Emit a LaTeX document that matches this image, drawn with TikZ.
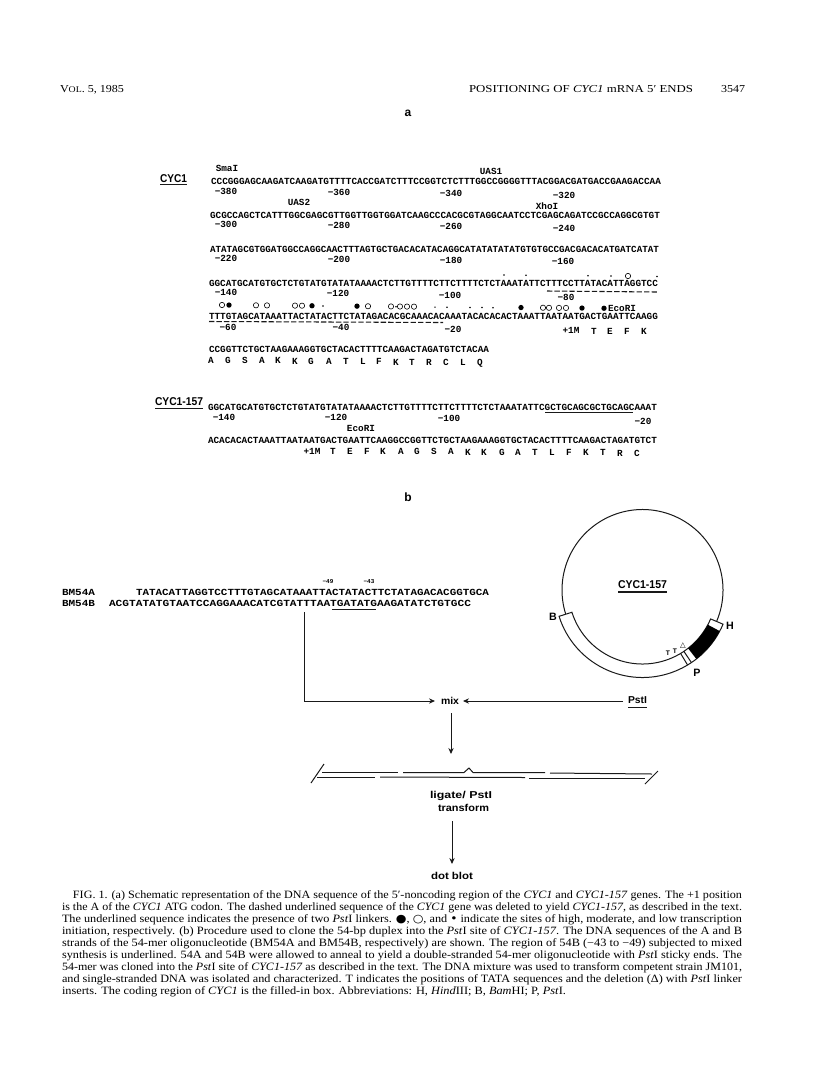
\documentclass[tikz,border=0pt]{standalone}
\usepackage{fontspec}
\usepackage{graphicx}
\setmainfont{Liberation Serif}
\newfontfamily\seqfont{Liberation Mono}[BoldFont={Liberation Mono Bold}]
\newfontfamily\labfont{Liberation Sans}
\newfontfamily\symfont{DejaVu Sans}
\usetikzlibrary{arrows.meta}
\tikzset{
  txt/.style={inner sep=0pt,outer sep=0pt,anchor=base west},
  ctr/.style={inner sep=0pt,outer sep=0pt,anchor=center},
  seqtext/.style={font=\seqfont\bfseries\fontsize{7}{8}\selectfont},
  tick/.style={ctr,seqtext},
  wire/.style={line width=0.75pt,black!90},
  arr/.style={wire,-{Stealth[length=4.5pt,width=4pt]}},
  under/.style={line width=0.8pt,black!90},
  dashunder/.style={line width=0.8pt,black!90,dash pattern=on 4pt off 1.6pt},
  bigdot/.style={circle,fill=black,inner sep=0pt,minimum size=4pt},
  ring/.style={circle,draw=black,line width=0.45pt,inner sep=0pt,minimum size=4pt},
  tiny/.style={circle,fill=black,inner sep=0pt,minimum size=1.3pt},
}
% A line of text stretched to run exactly from x0 to x1 on baseline y.
\newcommand{\fitline}[6]{%
  \pgfmathsetmacro{\fitw}{(#3-#2)*0.75}%
  \node[txt,#5] (#1) at (#2,#4) {\resizebox{\fitw pt}{\height}{#6}};%
}
\newcommand{\ital}[1]{\textit{#1}}
\newcommand{\pst}{\textit{Pst}I}
\begin{document}
\begin{tikzpicture}[x=0.75pt,y=-0.75pt]
\useasboundingbox (0,0) rectangle (816,1076);
\fill[white] (0,0) rectangle (816,1076);

% running head
\fitline{headl}{60}{124}{92}{font=\fontsize{8}{9}\selectfont}{V{\fontsize{6.5}{8}\selectfont OL}. 5, 1985}
\fitline{headc}{469}{693}{92}{font=\fontsize{8}{9}\selectfont}{POSITIONING OF \ital{CYC1} mRNA 5′ ENDS}
\fitline{headr}{721}{745}{92}{font=\fontsize{8}{9}\selectfont}{3547}

% panel letters
\node[ctr,font=\labfont\bfseries\fontsize{9}{10}\selectfont] (pa) at (408,113) {a};
\node[ctr,font=\labfont\bfseries\fontsize{9}{10}\selectfont] (pb) at (408,497) {b};

% CYC1 sequence block
\fitline{cyc}{160}{187}{182}{font=\labfont\bfseries\fontsize{8.5}{10}\selectfont}{CYC1}
\coordinate (cycu) at (160,184.5); \coordinate (cycv) at (187,184.5);
\draw[under,line width=1pt] (cycu)--(cycv);
\fitline{s1}{211}{661}{184}{seqtext}{CCCGGGAGCAAGATCAAGATGTTTTCACCGATCTTTCCGGTCTCTTTGGCCGGGGTTTACGGACGATGACCGAAGACCAA}
\fitline{s2}{210}{660}{218}{seqtext}{GCGCCAGCTCATTTGGCGAGCGTTGGTTGGTGGATCAAGCCCACGCGTAGGCAATCCTCGAGCAGATCCGCCAGGCGTGT}
\fitline{s3}{210}{659}{252}{seqtext}{ATATAGCGTGGATGGCCAGGCAACTTTAGTGCTGACACATACAGGCATATATATATGTGTGCCGACGACACATGATCATAT}
\fitline{s4}{209}{658}{286}{seqtext}{GGCATGCATGTGCTCTGTATGTATATAAAACTCTTGTTTTCTTCTTTTCTCTAAATATTCTTTCCTTATACATTAGGTCC}
\fitline{s5}{209}{658}{319}{seqtext}{TTTGTAGCATAAATTACTATACTTCTATAGACACGCAAACACAAATACACACACTAAATTAATAATGACTGAATTCAAGG}
\fitline{s6}{209}{489}{352.5}{seqtext}{CCGGTTCTGCTAAGAAAGGTGCTACACTTTTCAAGACTAGATGTCTACAA}

\foreach \t/\x/\y/\n in {SmaI/227/168/sm,UAS1/491/171/ua,UAS2/299/202/ub,XhoI/547/206/xh,
  −380/226/191/a1,−360/339/192/a2,−340/451/193/a3,−320/564/195/a4,
  −300/226/224/b1,−280/339/225/b2,−260/451/226/b3,−240/564/228/b4,
  −220/226/258/c1,−200/339/259/c2,−180/451/260/c3,−160/563/261/c4,
  −140/226/292/d1,−120/338/293/d2,−100/450/295/d3,−80/566/297/d4,
  −60/228/327/e1,−40/341/327/e2,−20/453/329/e3,EcoRI/622/308/ec,+1M/571/330/mm}
  \node[tick] (l\n) at (\x,\y) {\t};

% transcription start-site symbols
\foreach \x in {504,526,588,611,657} \node[tiny] (tu\x) at (\x,{275+0.01*(\x-504)}) {};
\node[ring] (ru) at (628,276) {};
\foreach \x in {323,396,435,447,470,482,493} \node[tiny] (tl\x) at (\x,{306+0.01*(\x-323)}) {};
\foreach \x in {222,256,267,295,302,368,391,400,407,414,543,549,559,566}
  \node[ring] (rl\x) at (\x,{305+0.0085*(\x-222)}) {};
\foreach \x in {229,312,357,521,582,604}
  \node[bigdot] (fl\x) at (\x,{305+0.0085*(\x-222)}) {};

% deleted region
\coordinate (da) at (547,291); \coordinate (db) at (657,292);
\draw[dashunder] (da)--(db);
\coordinate (dc) at (209,321.5); \coordinate (dd) at (443,322.5);
\draw[dashunder] (dc)--(dd);

% protein reading frames
\foreach \l/\x in {T/594,E/610,F/627,K/644}
  \node[tick] (pp\x) at (\x,331) {\l};
\foreach \l/\x in {A/211,G/228,S/245,A/262,K/278,K/295,G/311,A/329,T/346,L/363,F/379,K/396,T/412,R/429,C/446,L/463,Q/480}
  \node[tick] (qq\x) at (\x,{360+0.011*(\x-211)}) {\l};

% CYC1-157 sequence block
\fitline{cycb}{155}{203}{405.5}{font=\labfont\bfseries\fontsize{8.5}{10}\selectfont}{CYC1-157}
\coordinate (cbu) at (155,408.5); \coordinate (cbv) at (203,408.5);
\draw[under,line width=1pt] (cbu)--(cbv);
\fitline{s7}{208}{657}{410}{seqtext}{GGCATGCATGTGCTCTGTATGTATATAAAACTCTTGTTTTCTTCTTTTCTCTAAATATTCGCTGCAGCGCTGCAGCAAAT}
\fitline{s8}{208}{657}{443}{seqtext}{ACACACACTAAATTAATAATGACTGAATTCAAGGCCGGTTCTGCTAAGAAAGGTGCTACACTTTTCAAGACTAGATGTCT}
\foreach \t/\x/\y/\n in {−140/224/417/a,−120/336/417.5/b,−100/449/418/c,−20/643/421/d,EcoRI/361/428/e,+1M/312/451/f}
  \node[tick] (m\n) at (\x,\y) {\t};
\coordinate (lnka) at (545,412.5); \coordinate (lnkb) at (633,412.5);
\draw[under] (lnka)--(lnkb);
\foreach \l/\x in {T/333,E/350,F/367,K/383,A/401,G/417,S/434,A/451,K/468,K/484,G/502,A/518,T/535,L/552,F/569,K/586,T/603,R/620,C/637}
  \node[tick] (rr\x) at (\x,{451+0.007*(\x-333)}) {\l};

% oligonucleotide strands
\fitline{bma}{62}{95}{595}{seqtext}{BM54A}
\fitline{bmb}{62}{95}{606}{seqtext}{BM54B}
\fitline{olia}{136}{489}{595}{seqtext}{TATACATTAGGTCCTTTGTAGCATAAATTACTATACTTCTATAGACACGGTGCA}
\fitline{olib}{109}{471}{606}{seqtext}{ACGTATATGTAATCCAGGAAACATCGTATTTAATGATATGAAGATATCTGTGCC}
\node[ctr,font=\seqfont\bfseries\fontsize{4.5}{5}\selectfont] (m49) at (328,582) {−49};
\node[ctr,font=\seqfont\bfseries\fontsize{4.5}{5}\selectfont] (m43) at (369,582) {−43};
\coordinate (mua) at (332,609.5); \coordinate (mub) at (376,609.5);
\draw[under,line width=1pt] (mua)--(mub);

% plasmid map
\begin{scope}[shift={(642.5,590)},y=0.75pt]
  \coordinate (plc) at (0,0);
  \draw[wire] (-23:80.5) arc[start angle=-23,end angle=197.5,radius=80.5];
  \draw[wire,fill=white] (197.5:74) arc[start angle=197.5,end angle=337,radius=74]
    -- (337:87.5) arc[start angle=337,end angle=197.5,radius=87.5] -- cycle;
  \fill[black] (-52:74) arc[start angle=-52,end angle=-28,radius=74]
    -- (-28:87.5) arc[start angle=-28,end angle=-52,radius=87.5] -- cycle;
  \draw[wire] (-59:74) -- (-59:87.5);
  \draw[wire] (-56:74) -- (-56:87.5);
\end{scope}
\fitline{plname}{618}{667}{588}{font=\labfont\bfseries\fontsize{8.5}{10}\selectfont}{CYC1-157}
\coordinate (plu) at (618,592); \coordinate (plv) at (667,592);
\draw[under,line width=1pt] (plu)--(plv);
\node[ctr,font=\labfont\bfseries\fontsize{8}{9}\selectfont] (siteb) at (553,617) {B};
\node[ctr,font=\labfont\bfseries\fontsize{8}{9}\selectfont] (siteh) at (730,626) {H};
\node[ctr,font=\labfont\bfseries\fontsize{8}{9}\selectfont] (sitep) at (697,673) {P};
\node[ctr,font=\labfont\bfseries\fontsize{5}{6}\selectfont] (ta) at (668,653) {T};
\node[ctr,font=\labfont\bfseries\fontsize{5}{6}\selectfont] (tb) at (675,651) {T};
\node[ctr,font=\symfont\bfseries\fontsize{5.5}{6}\selectfont] (dl) at (683,646) {△};

% cloning scheme
\fitline{mix}{441}{459}{704}{font=\labfont\bfseries\fontsize{7.5}{9}\selectfont}{mix}
\fitline{enz}{628}{647}{703.5}{font=\labfont\bfseries\fontsize{7.5}{9}\selectfont}{PstI}
\coordinate (enzu) at (628,707.5); \coordinate (enzv) at (647,707.5);
\draw[under] (enzu)--(enzv);
\coordinate (drop) at (304,612);
\coordinate (bend) at (304,701);
\coordinate (toa) at (435,701);
\coordinate (fromr) at (623,701);
\coordinate (tob) at (463,701);
\draw[arr] (drop)--(bend)--(toa);
\draw[arr] (fromr)--(tob);
\coordinate (mixd) at (451,713);
\coordinate (ductop) at (451,754);
\draw[arr] (mixd)--(ductop);

% ligated duplex
\coordinate (sla) at (311,783); \coordinate (slb) at (324,764);
\coordinate (slc) at (645,784); \coordinate (sld) at (658,771);
\draw[wire] (sla)--(slb);
\draw[wire] (slc)--(sld);
\coordinate (ta1) at (322,772); \coordinate (ta2) at (398,772);
\coordinate (tb1) at (403,772.5); \coordinate (tb2) at (464,772.5);
\coordinate (tbp) at (469,768); \coordinate (tb3) at (473,772.5); \coordinate (tb4) at (545,772.5);
\coordinate (tc1) at (550,773); \coordinate (tc2) at (652,774);
\coordinate (ba1) at (317,777); \coordinate (ba2) at (375,777);
\coordinate (bb1) at (380,777); \coordinate (bb2) at (525,777.5);
\coordinate (bc1) at (529,778); \coordinate (bc2) at (645,778);
\draw[wire] (ta1)--(ta2);
\draw[wire] (tb1)--(tb2)--(tbp)--(tb3)--(tb4);
\draw[wire] (tc1)--(tc2);
\draw[wire] (ba1)--(ba2);
\draw[wire] (bb1)--(bb2);
\draw[wire] (bc1)--(bc2);

\fitline{lig}{430}{492}{798}{font=\labfont\bfseries\fontsize{7.5}{9}\selectfont}{ligate/ PstI}
\fitline{trf}{438}{489}{811}{font=\labfont\bfseries\fontsize{7.5}{9}\selectfont}{transform}
\coordinate (trd) at (452,821);
\coordinate (dbt) at (452,864);
\draw[arr] (trd)--(dbt);
\fitline{dot}{431}{473}{879}{font=\labfont\bfseries\fontsize{7.5}{9}\selectfont}{dot blot}

% figure legend
\foreach \n/\xa/\xb/\y/\t in {
 c1/73/742/898/{FIG. 1. (a) Schematic representation of the DNA sequence of the 5′-noncoding region of the \ital{CYC1} and \ital{CYC1-157} genes. The +1 position},
 c2/62/742/910/{is the A of the \ital{CYC1} ATG codon. The dashed underlined sequence of the \ital{CYC1} gene was deleted to yield \ital{CYC1-157}, as described in the text.},
 c3/62/742/922/{The underlined sequence indicates the presence of two \pst{} linkers. {\symfont ●}, {\symfont ○}, and {\symfont •} indicate the sites of high, moderate, and low transcription},
 c4/62/742/934.5/{initiation, respectively. (b) Procedure used to clone the 54-bp duplex into the \pst{} site of \ital{CYC1-157}. The DNA sequences of the A and B},
 c5/62/742/946.5/{strands of the 54-mer oligonucleotide (BM54A and BM54B, respectively) are shown. The region of 54B (−43 to −49) subjected to mixed},
 c6/62/742/958.5/{synthesis is underlined. 54A and 54B were allowed to anneal to yield a double-stranded 54-mer oligonucleotide with \pst{} sticky ends. The},
 c7/62/742/970.5/{54-mer was cloned into the \pst{} site of \ital{CYC1-157} as described in the text. The DNA mixture was used to transform competent strain JM101,},
 c8/62/742/982.5/{and single-stranded DNA was isolated and characterized. T indicates the positions of TATA sequences and the deletion (Δ) with \pst{} linker},
 c9/62/566/994.5/{inserts. The coding region of \ital{CYC1} is the filled-in box. Abbreviations: H, \ital{Hind}III; B, \ital{Bam}HI; P, \pst.}}
 {\fitline{\n}{\xa}{\xb}{\y}{font=\fontsize{8.4}{10}\selectfont}{\t}}
\end{tikzpicture}
\end{document}
